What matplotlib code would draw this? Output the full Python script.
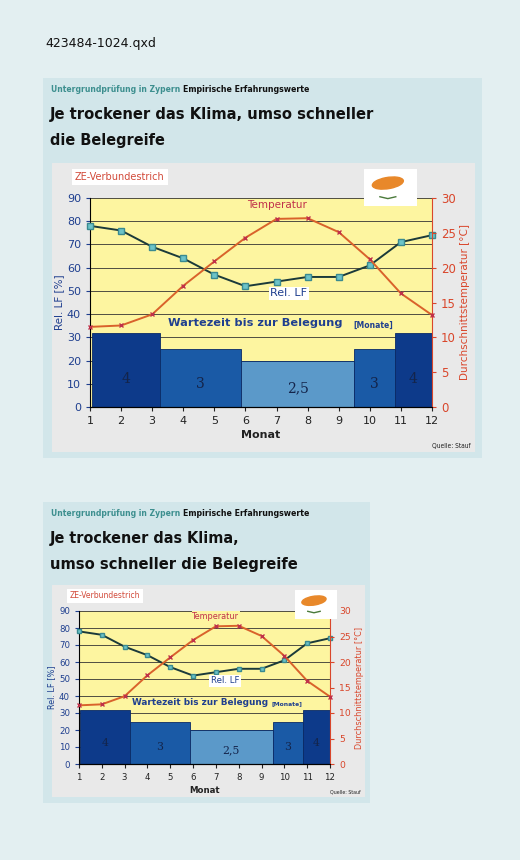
import matplotlib
matplotlib.use("Agg")
import matplotlib.pyplot as plt
from matplotlib.patches import Rectangle, Ellipse

W, H = 520, 860

months = list(range(1, 13))
rel_lf = [78, 76, 69, 64, 57, 52, 54, 56, 56, 61, 71, 74]
temperatur = [11.5, 11.7, 13.3, 17.4, 20.9, 24.3, 27.0, 27.1, 25.1, 21.2, 16.3, 13.2]
# Wartezeit-Blöcke: linke Kante, rechte Kante, Höhe (Skala links), Beschriftung
bar_left = [1.05, 3.25, 5.85, 9.5, 10.8]
bar_right = [3.25, 5.85, 9.5, 10.8, 12.0]
bar_height = [32, 25, 20, 25, 32]
bar_label = ["4", "3", "2,5", "3", "4"]
bar_colors = ["#0d3a8a", "#1a5aa6", "#5b99c9", "#1a5aa6", "#0d3a8a"]

BLUE = "#1f3f8f"
RED = "#d9462b"
HEAD = dict(family="DejaVu Sans", stretch="condensed", weight="bold")

fig = plt.figure(figsize=(W / 100, H / 100), dpi=100)
renderer = fig.canvas.get_renderer()


def px_rect(x0, y0, x1, y1):
    return [x0 / W, 1 - y1 / H, (x1 - x0) / W, (y1 - y0) / H]


def fit_text(x, y, s, width, size, **kw):
    # Text auf eine Zielbreite in Pixeln bringen
    t = fig.text(x / W, 1 - y / H, s, fontsize=size, va="center", **kw)
    w = t.get_window_extent(renderer).width
    t.set_fontsize(size * width / w)
    return t


def panel(box, inner, plot, title_lines, title_w, head_y, head_w, s):
    bg = fig.add_axes(px_rect(*box))
    bg.set_axis_off()
    bg.add_patch(Rectangle((0, 0), 1, 1, color="#d2e6ea", transform=bg.transAxes))
    bx0 = box[0]

    fit_text(bx0 + 8, head_y[0], "Untergrundprüfung in Zypern", head_w[0], 7,
             color="#3d8f8f", **HEAD)
    fit_text(bx0 + 12 + head_w[0], head_y[0], "Empirische Erfahrungswerte", head_w[1], 7,
             color="#111111", **HEAD)
    for line, yy, tw in zip(title_lines, head_y[1:], title_w):
        fit_text(bx0 + 7, yy, line, tw, 14, color="#111111", **HEAD)

    ib = fig.add_axes(px_rect(*inner))
    ib.set_axis_off()
    ib.add_patch(Rectangle((0, 0), 1, 1, color="#e9e9e9", transform=ib.transAxes))

    ax = fig.add_axes(px_rect(*plot))
    ax.set_facecolor("#fdf5a0")
    ax.set_xlim(1, 12)
    ax.set_ylim(0, 90)
    ax.set_yticks(range(0, 91, 10))
    ax.set_xticks(months)
    ax.yaxis.grid(True, color="#333333", lw=0.6)
    ax.set_axisbelow(True)
    for sp in ["top", "right"]:
        ax.spines[sp].set_visible(False)
    ax.tick_params(axis="y", colors=BLUE, labelsize=8 * s, length=3)
    ax.tick_params(axis="x", colors="#222222", labelsize=8 * s, length=3)

    for l, r, h, lab, c in zip(bar_left, bar_right, bar_height, bar_label, bar_colors):
        ax.bar(l, h, width=r - l, align="edge", color=c, edgecolor="#0a2a66", lw=0.6, zorder=2)
        ax.text((l + r) / 2, h * 0.38 if h > 25 else h * 0.4, lab, ha="center", va="center",
                family="DejaVu Serif", fontsize=10 * s, color="#14244a", zorder=3)

    ax.plot(months, rel_lf, color="#1b3a3a", lw=1.4, marker="s", ms=4.5 * s,
            mfc="#6cc3c8", mec="#3a8a90", zorder=4, clip_on=False)
    ax.text(7.4, 49, "Rel. LF", color=BLUE, fontsize=8 * s, ha="center", va="center",
            bbox=dict(facecolor="white", edgecolor="none", pad=1), zorder=5)
    ax.text(6.3, 36, "Wartezeit bis zur Belegung", color=BLUE, weight="bold",
            fontsize=8.2 * s, ha="center", va="center", zorder=5)
    ax.text(10.1, 35.3, "[Monate]", color=BLUE, weight="bold", fontsize=5.5 * s,
            ha="center", va="center", zorder=5)
    ax.set_ylabel("Rel. LF [%]", color=BLUE, fontsize=7.5 * s, labelpad=2)
    ax.set_xlabel("Monat", color="#222222", fontsize=8 * s, weight="bold", labelpad=3)

    ax2 = ax.twinx()
    ax2.set_ylim(0, 30)
    ax2.set_yticks(range(0, 31, 5))
    for sp in ["top", "left"]:
        ax2.spines[sp].set_visible(False)
    ax2.spines["right"].set_color(RED)
    ax2.tick_params(axis="y", colors=RED, labelsize=8.5 * s, length=3)
    ax2.plot(months, temperatur, color="#d9622b", lw=1.4, marker="x", ms=3.5 * s,
             mec="#c0304a", zorder=4, clip_on=False)
    ax2.text(7.0, 29, "Temperatur", color="#c0304a", fontsize=7.5 * s, ha="center",
             va="center", bbox=dict(facecolor="#fdf5a0", edgecolor="none", pad=0.5))
    ax2.set_ylabel("Durchschnittstemperatur [°C]", color=RED, fontsize=7.5 * s, labelpad=3)

    ix0, iy0, ix1, iy1 = inner
    fig.text((ix0 + 23 * s) / W, 1 - (iy0 + 14 * s) / H, "ZE-Verbundestrich", color="#d24a3a",
             fontsize=7 * s, va="center",
             bbox=dict(facecolor="white", edgecolor="none", pad=2))
    fig.text((ix1 - 4) / W, 1 - (iy1 - 6 * s) / H, "Quelle: Stauf", family="DejaVu Sans",
             stretch="condensed", fontsize=4.8 * s, ha="right", va="center", color="#222222")

    # Flagge Zyperns (vereinfacht)
    fl = fig.add_axes(px_rect(ix0 + 312 * s, iy0 + 6 * s, ix0 + 365 * s, iy0 + 43 * s))
    fl.set_axis_off()
    fl.set_xlim(0, 1)
    fl.set_ylim(0, 1)
    fl.add_patch(Rectangle((0, 0), 1, 1, color="white"))
    fl.add_patch(Ellipse((0.45, 0.62), 0.6, 0.3, angle=15, color="#e8882a"))
    fl.plot([0.3, 0.45, 0.6], [0.25, 0.2, 0.25], color="#4a7a3a", lw=1)


fig.patch.set_facecolor("#e3eff1")
fig.text(45 / W, 1 - 43 / H, "423484-1024.qxd", fontsize=9, color="#111111", va="center")

panel((43, 78, 482, 458), (52, 163, 475, 452), (90, 198, 432, 407),
      ["Je trockener das Klima, umso schneller", "die Belegreife"], (325, 115),
      (90, 115, 141), (128, 128), 1.0)
panel((43, 502, 370, 803), (52, 585, 365, 797), (79, 611, 330, 764),
      ["Je trockener das Klima,", "umso schneller die Belegreife"], (190, 248),
      (514, 539, 564), (128, 128), 0.78)

fig.savefig("out.png", dpi=100, facecolor=fig.get_facecolor())
